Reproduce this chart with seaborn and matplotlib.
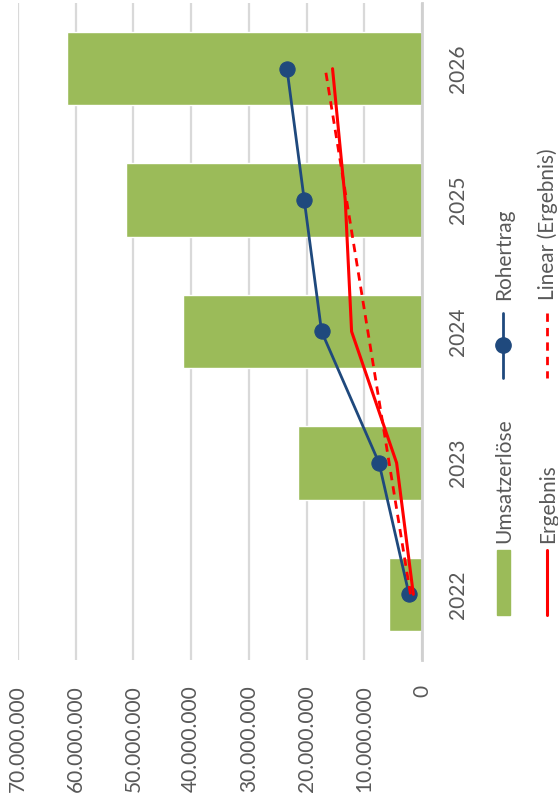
import numpy as np
import pandas as pd
import matplotlib.pyplot as plt
import seaborn as sns
from matplotlib.lines import Line2D
from matplotlib.patches import Rectangle

# data (values in EUR)
years = [2022, 2023, 2024, 2025, 2026]
umsatz = [5.8e6, 21.5e6, 41.4e6, 51.3e6, 61.5e6]
rohertrag = [2.25e6, 7.45e6, 17.4e6, 20.4e6, 23.4e6]
ergebnis = [1.5e6, 4.4e6, 12.2e6, 13.3e6, 15.5e6]
xticks = [0, 10e6, 20e6, 30e6, 40e6, 50e6, 60e6, 70e6]

sns.set_theme(style="white")
plt.rcParams['font.family'] = ['Lato', 'DejaVu Sans']

GREEN = '#9BBB59'
BLUE = '#1F497D'
RED = '#FF0000'
TXT = '#595959'
GRID = '#D9D9D9'
FS = 15

W, H = 558, 801
fig = plt.figure(figsize=(W / 100, H / 100), dpi=100)
ax = fig.add_axes([18 / W, 1 - 660 / H, (422 - 18) / W, (660 - 3) / H])

df = pd.DataFrame({'Jahr': [str(y) for y in years], 'Umsatzerlöse': umsatz})
order = [str(y) for y in years[::-1]]
sns.barplot(data=df, x='Umsatzerlöse', y='Jahr', order=order, orient='h',
            color=GREEN, width=0.56, saturation=1, ax=ax, zorder=2)

pos = [order.index(str(y)) for y in years]

# Rohertrag
sns.lineplot(x=rohertrag, y=pos, orient='y', sort=False, color=BLUE, lw=2,
             marker='o', markersize=11, markeredgecolor=BLUE, ax=ax, zorder=3)
# Ergebnis
sns.lineplot(x=ergebnis, y=pos, orient='y', sort=False, color=RED, lw=2.2,
             ax=ax, zorder=4)
# linear trend of Ergebnis
idx = np.arange(len(years))
k, d = np.polyfit(idx, ergebnis, 1)
trend = k * idx + d
ax.plot(trend, pos, color=RED, lw=2, ls=(0, (3, 2.2)), zorder=4)

ax.set_xlim(70e6, 0)
ax.set_ylim(4.5, -0.5)
ax.set_xticks(xticks)
ax.set_xticklabels([f"{v:,.0f}".replace(',', '.') for v in xticks],
                   rotation=90, fontsize=FS, color=TXT)
ax.tick_params(axis='x', length=0, pad=18)
ax.yaxis.tick_right()
ax.set_yticks(range(len(order)))
ax.set_yticklabels(order, rotation=90, va='center', fontsize=FS, color=TXT)
ax.tick_params(axis='y', length=0, pad=19)
ax.set_xlabel('')
ax.set_ylabel('')
ax.grid(axis='x', color=GRID, lw=1.6, zorder=0)
ax.grid(axis='y', visible=False)
ax.set_axisbelow(True)
for s in ['left', 'top', 'bottom']:
    ax.spines[s].set_visible(False)
ax.spines['right'].set_color('#D0D0D0')
ax.spines['right'].set_linewidth(2)
if ax.get_legend():
    ax.get_legend().remove()


# manual legend (rotated)
def fx(x):
    return x / W


def fy(y):
    return 1 - y / H


fig.add_artist(Rectangle((fx(497), fy(615)), 13 / W, 65 / H,
                         transform=fig.transFigure, color=GREEN))
fig.text(fx(504), fy(543), 'Umsatzerlöse', rotation=90, ha='center',
         va='bottom', fontsize=FS, color=TXT)
fig.add_artist(Line2D([fx(503), fx(503)], [fy(313), fy(378)],
                      transform=fig.transFigure, color=BLUE, lw=2))
fig.add_artist(Line2D([fx(503)], [fy(345)], transform=fig.transFigure,
                      color=BLUE, marker='o', markersize=11))
fig.text(fx(504), fy(300), 'Rohertrag', rotation=90, ha='center',
         va='bottom', fontsize=FS, color=TXT)
fig.add_artist(Line2D([fx(547), fx(547)], [fy(550), fy(615)],
                      transform=fig.transFigure, color=RED, lw=2.2))
fig.text(fx(548), fy(543), 'Ergebnis', rotation=90, ha='center',
         va='bottom', fontsize=FS, color=TXT)
fig.add_artist(Line2D([fx(547), fx(547)], [fy(313), fy(378)],
                      transform=fig.transFigure, color=RED, lw=2,
                      ls=(0, (3, 2.2))))
fig.text(fx(548), fy(300), 'Linear (Ergebnis)', rotation=90, ha='center',
         va='bottom', fontsize=FS, color=TXT)

fig.savefig('out.png', dpi=100)
